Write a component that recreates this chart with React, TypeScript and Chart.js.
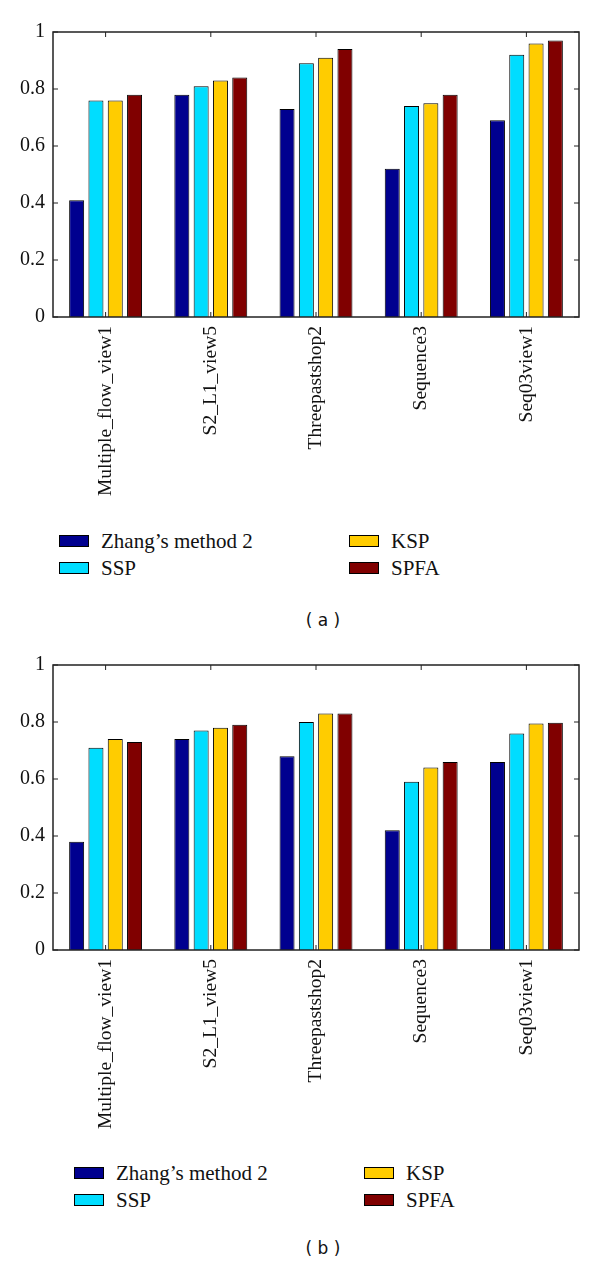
import React, { useEffect, useRef } from "react";
import { Chart, registerables } from "chart.js";

Chart.register(...registerables);

// ---------- data ----------
const categories = ["Multiple_flow_view1", "S2_L1_view5", "Threepastshop2", "Sequence3", "Seq03view1"];
const seriesNames = ["Zhang’s method 2", "SSP", "KSP", "SPFA"];
const seriesColors = ["#00008F", "#00DDFF", "#FFCC00", "#800000"];

const zhangA = [0.41, 0.78, 0.73, 0.52, 0.69];
const sspA = [0.76, 0.81, 0.89, 0.74, 0.92];
const kspA = [0.76, 0.83, 0.91, 0.75, 0.96];
const spfaA = [0.78, 0.84, 0.94, 0.78, 0.97];

const zhangB = [0.38, 0.74, 0.68, 0.42, 0.66];
const sspB = [0.71, 0.77, 0.8, 0.59, 0.76];
const kspB = [0.74, 0.78, 0.83, 0.64, 0.795];
const spfaB = [0.73, 0.79, 0.83, 0.66, 0.797];

const yTicks = [0, 0.2, 0.4, 0.6, 0.8, 1];
const yTickLabels = ["0", "0.2", "0.4", "0.6", "0.8", "1"];

const SERIF = '"Liberation Serif", "Times New Roman", serif';
const CANVAS_H = 520;
const PLOT_TOP = 32;
const PLOT_H = 285;
const PLOT_LEFT = 53;
const PLOT_RIGHT = 579;

const framePlugin = {
  id: "frameTicks",
  afterDatasetsDraw(chart: any) {
    const { ctx, chartArea } = chart;
    const { left, right, top, bottom } = chartArea;
    const xs = chart.scales.x;
    const ys = chart.scales.y;
    const tl = 5;
    ctx.save();
    ctx.strokeStyle = "#222";
    ctx.lineWidth = 1;
    ctx.beginPath();
    ys.ticks.forEach((t: any) => {
      const y = ys.getPixelForValue(t.value);
      ctx.moveTo(left, y);
      ctx.lineTo(left + tl, y);
      ctx.moveTo(right, y);
      ctx.lineTo(right - tl, y);
    });
    categories.forEach((_, i) => {
      const x = xs.getPixelForValue(i);
      ctx.moveTo(x, top);
      ctx.lineTo(x, top + tl);
      ctx.moveTo(x, bottom);
      ctx.lineTo(x, bottom - tl);
    });
    ctx.stroke();
    ctx.lineWidth = 1.5;
    ctx.strokeRect(left, top, right - left, bottom - top);
    ctx.restore();
  },
};

type PanelProps = {
  top: number;
  series: number[][];
  legendTop: number;
  legendLeft: number;
  legendRight: number;
  caption: string;
  captionTop: number;
};

function Panel({ top, series, legendTop, legendLeft, legendRight, caption, captionTop }: PanelProps) {
  const ref = useRef<HTMLCanvasElement>(null);
  useEffect(() => {
    if (!ref.current) return;
    const chart = new Chart(ref.current, {
      type: "bar",
      data: {
        labels: categories,
        datasets: series.map((vals, i) => ({
          label: seriesNames[i],
          data: vals,
          backgroundColor: seriesColors[i],
          borderColor: "#000",
          borderWidth: 1,
          categoryPercentage: 0.734,
          barPercentage: 0.777,
        })),
      },
      options: {
        responsive: false,
        animation: false,
        layout: { padding: { top: PLOT_TOP, right: 600 - PLOT_RIGHT, left: 0, bottom: 0 } },
        plugins: { legend: { display: false }, tooltip: { enabled: false } },
        scales: {
          x: {
            grid: { display: false, drawTicks: false },
            border: { display: false },
            ticks: {
              autoSkip: false,
              minRotation: 90,
              maxRotation: 90,
              padding: 9,
              color: "#111",
              font: { family: SERIF, size: 19.5 },
            },
            afterFit: (s: any) => {
              s.height = CANVAS_H - PLOT_TOP - PLOT_H;
            },
          },
          y: {
            min: 0,
            max: 1,
            grid: { display: false, drawTicks: false },
            border: { display: false },
            afterBuildTicks: (s: any) => {
              s.ticks = yTicks.map((v) => ({ value: v }));
            },
            ticks: {
              padding: 8,
              color: "#111",
              font: { family: SERIF, size: 20 },
              callback: (_v: any, idx: number) => yTickLabels[idx],
            },
            afterFit: (s: any) => {
              s.width = PLOT_LEFT;
            },
          },
        },
      },
      plugins: [framePlugin],
    });
    return () => chart.destroy();
  }, [series]);

  const rowH = 27;
  const legendItem = (i: number, x: number, y: number) => (
    <div
      key={i}
      style={{ position: "absolute", left: x, top: y - 12, height: 24, display: "flex", alignItems: "center", whiteSpace: "nowrap" }}
    >
      <div
        style={{
          width: 30,
          height: 12,
          boxSizing: "border-box",
          border: "1px solid #000",
          background: seriesColors[i],
          marginRight: 12,
        }}
      />
      <span style={{ fontFamily: SERIF, fontSize: 21, color: "#111", lineHeight: "24px" }}>{seriesNames[i]}</span>
    </div>
  );

  return (
    <>
      <canvas
        ref={ref}
        width={600}
        height={CANVAS_H}
        style={{ position: "absolute", left: 0, top, width: 600, height: CANVAS_H }}
      />
      {legendItem(0, legendLeft, legendTop)}
      {legendItem(1, legendLeft, legendTop + rowH)}
      {legendItem(2, legendRight, legendTop)}
      {legendItem(3, legendRight, legendTop + rowH)}
      <div
        style={{
          position: "absolute",
          left: 323 - 50,
          width: 100,
          top: captionTop - 12,
          height: 24,
          lineHeight: "24px",
          textAlign: "center",
          fontFamily: '"DejaVu Sans", "Open Sans", sans-serif',
          fontSize: 17,
          color: "#111",
          whiteSpace: "pre",
        }}
      >
        {caption}
      </div>
    </>
  );
}

const seriesA = [zhangA, sspA, kspA, spfaA];
const seriesB = [zhangB, sspB, kspB, spfaB];

export default function App() {
  return (
    <div style={{ position: "absolute", left: 0, top: 0, width: 600, height: 1265, background: "#fff", overflow: "hidden" }}>
      <Panel top={0} series={seriesA} legendTop={541} legendLeft={59} legendRight={349} caption="( a )" captionTop={620} />
      <Panel top={633} series={seriesB} legendTop={1173} legendLeft={74} legendRight={364} caption="( b )" captionTop={1248} />
    </div>
  );
}
